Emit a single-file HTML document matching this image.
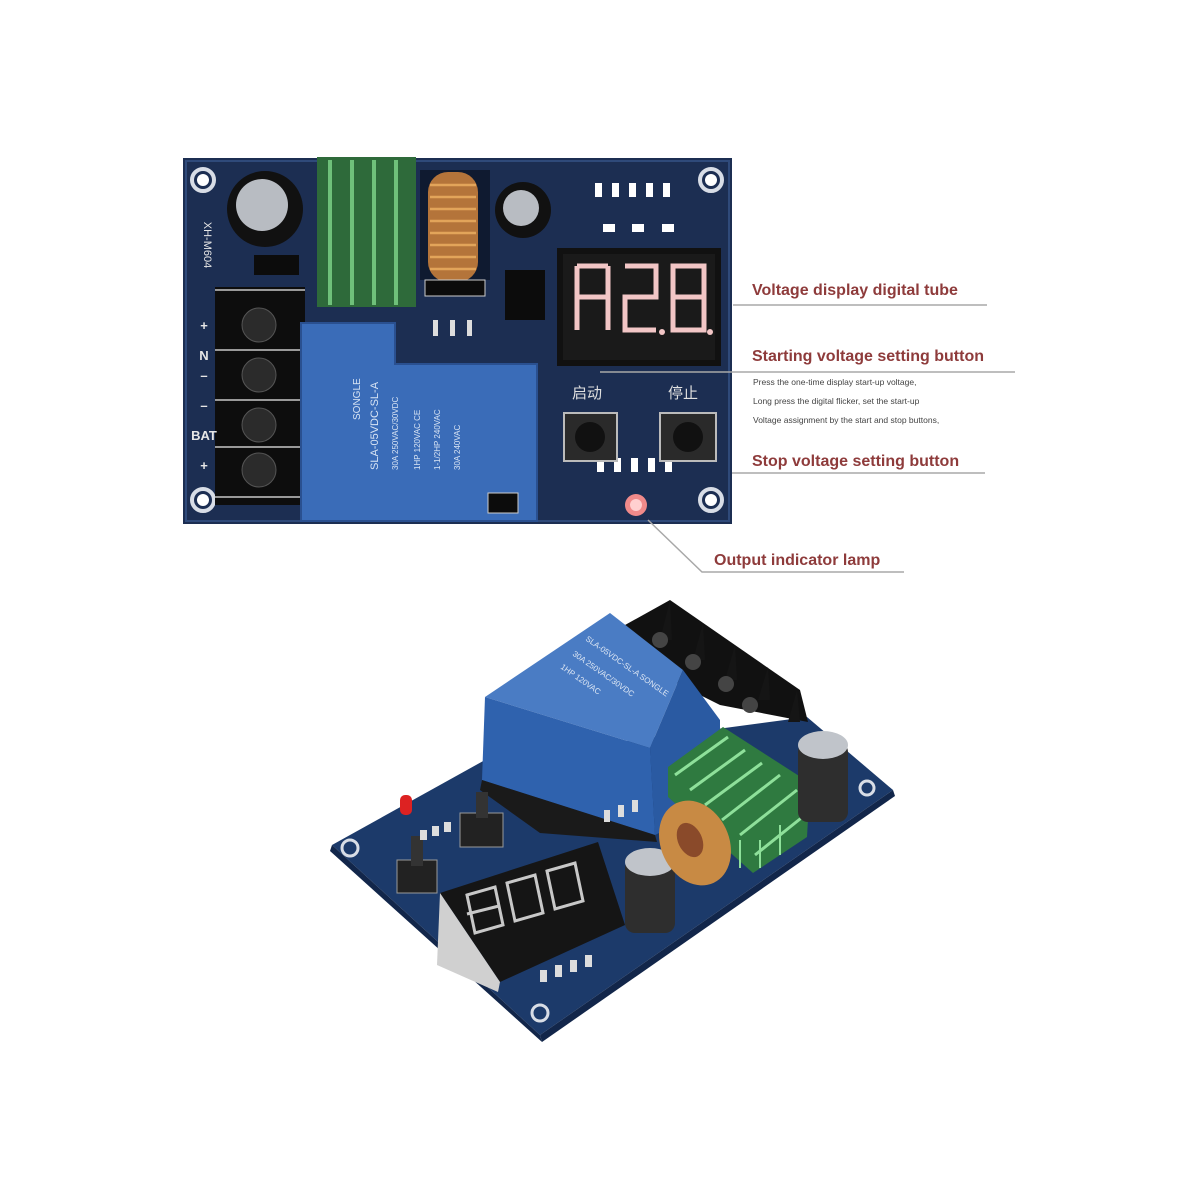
<!DOCTYPE html>
<html><head><meta charset="utf-8"><style>
html,body{margin:0;padding:0;background:#fff;width:1200px;height:1200px;overflow:hidden}
svg{display:block}
</style></head><body>
<svg width="1200" height="1200" viewBox="0 0 1200 1200" xmlns="http://www.w3.org/2000/svg" font-family="Liberation Sans, Noto Sans CJK SC, sans-serif">
<rect width="1200" height="1200" fill="#fff"/>
<!-- TOP BOARD -->
<rect x="183" y="158" width="549" height="366" fill="#1c2e52"/>
<rect x="186" y="161" width="543" height="360" fill="none" stroke="#2f4a7a" stroke-width="2"/>
<g fill="none" stroke="#d8dde6" stroke-width="4">
<circle cx="203" cy="180" r="11"/><circle cx="711" cy="180" r="11"/>
<circle cx="203" cy="500" r="11"/><circle cx="711" cy="500" r="11"/>
</g>
<g fill="#fff"><circle cx="203" cy="180" r="6"/><circle cx="711" cy="180" r="6"/><circle cx="203" cy="500" r="6"/><circle cx="711" cy="500" r="6"/></g>
<circle cx="265" cy="209" r="38" fill="#111"/>
<circle cx="262" cy="205" r="26" fill="#b8bcc2"/>
<circle cx="523" cy="210" r="28" fill="#111"/>
<circle cx="521" cy="208" r="18" fill="#b8bcc2"/>
<rect x="254" y="255" width="45" height="20" fill="#0c0c0c"/>
<rect x="317" y="157" width="99" height="150" fill="#2e6a3a"/>
<g stroke="#6fc07a" stroke-width="4">
<line x1="330" y1="160" x2="330" y2="305"/><line x1="352" y1="160" x2="352" y2="305"/><line x1="374" y1="160" x2="374" y2="305"/><line x1="396" y1="160" x2="396" y2="305"/>
</g>
<rect x="420" y="170" width="70" height="110" fill="#0f1a30"/>
<rect x="428" y="172" width="50" height="110" rx="20" fill="#b4743a"/>
<g stroke="#e2a45a" stroke-width="2.5"><line x1="430" y1="185" x2="476" y2="185"/><line x1="430" y1="197" x2="476" y2="197"/><line x1="430" y1="209" x2="476" y2="209"/><line x1="430" y1="221" x2="476" y2="221"/><line x1="430" y1="233" x2="476" y2="233"/><line x1="430" y1="245" x2="476" y2="245"/><line x1="430" y1="257" x2="476" y2="257"/><line x1="430" y1="269" x2="476" y2="269"/></g>
<rect x="425" y="280" width="60" height="16" fill="#0b0b0b" stroke="#ccc"/>
<rect x="215" y="287" width="90" height="218" fill="#0d0d0d"/>
<g fill="#2b2b2b" stroke="#555"><circle cx="259" cy="325" r="17"/><circle cx="259" cy="375" r="17"/><circle cx="259" cy="425" r="17"/><circle cx="259" cy="470" r="17"/></g>
<g stroke="#999" stroke-width="2"><line x1="215" y1="290" x2="305" y2="290"/><line x1="215" y1="350" x2="305" y2="350"/><line x1="215" y1="400" x2="305" y2="400"/><line x1="215" y1="447" x2="305" y2="447"/><line x1="215" y1="497" x2="305" y2="497"/></g>
<g fill="#e6e6e6" font-size="13" font-weight="bold">
<text x="204" y="330" text-anchor="middle">+</text><text x="204" y="360" text-anchor="middle">N</text><text x="204" y="380" text-anchor="middle">–</text><text x="204" y="410" text-anchor="middle">–</text><text x="204" y="440" text-anchor="middle">BAT</text><text x="204" y="470" text-anchor="middle">+</text>
</g>
<text x="204" y="245" fill="#e6e6e6" font-size="11" transform="rotate(90 204 245)" text-anchor="middle">XH-M604</text>
<path d="M301 323 H395 V364 H537 V521 H301 Z" fill="#3a6cb8" stroke="#2a5090" stroke-width="2"/>
<g fill="#d8e4f4" font-size="11">
<text transform="translate(378,470) rotate(-90)">SLA-05VDC-SL-A</text>
<text transform="translate(398,470) rotate(-90)" font-size="8">30A 250VAC/30VDC</text>
<text transform="translate(420,470) rotate(-90)" font-size="8">1HP 120VAC  CE</text>
<text transform="translate(440,470) rotate(-90)" font-size="8">1-1/2HP 240VAC</text>
<text transform="translate(460,470) rotate(-90)" font-size="8">30A 240VAC</text>
<text transform="translate(360,420) rotate(-90)" font-size="10">SONGLE</text>
</g>
<rect x="505" y="270" width="40" height="50" fill="#0c0c0c"/>
<g fill="#ddd"><rect x="433" y="320" width="5" height="16"/><rect x="450" y="320" width="5" height="16"/><rect x="467" y="320" width="5" height="16"/></g>
<g fill="#fff"><rect x="595" y="183" width="7" height="14"/><rect x="612" y="183" width="7" height="14"/><rect x="629" y="183" width="7" height="14"/><rect x="646" y="183" width="7" height="14"/><rect x="663" y="183" width="7" height="14"/>
<rect x="603" y="224" width="12" height="8"/><rect x="632" y="224" width="12" height="8"/><rect x="662" y="224" width="12" height="8"/>
<rect x="597" y="458" width="7" height="14"/><rect x="614" y="458" width="7" height="14"/><rect x="631" y="458" width="7" height="14"/><rect x="648" y="458" width="7" height="14"/><rect x="665" y="458" width="7" height="14"/></g>
<rect x="557" y="248" width="164" height="118" fill="#111"/>
<rect x="563" y="254" width="152" height="106" fill="#1a1a1a"/>
<g fill="none" stroke="#f2c6c6" stroke-width="5">
<path d="M577 266 H608 M577 266 V297 H608 M577 297 V330 M608 266 V330"/>
<path d="M625 266 H656 V297 H625 V330 H656"/>
<path d="M673 266 H704 V330 H673 Z M673 297 H704"/>
</g>
<g fill="#f2c6c6"><circle cx="662" cy="332" r="3"/><circle cx="710" cy="332" r="3"/></g>
<text x="572" y="398" fill="#e0e0e0" font-size="15" font-family="Noto Sans CJK SC, sans-serif">启动</text>
<text x="668" y="398" fill="#e0e0e0" font-size="15" font-family="Noto Sans CJK SC, sans-serif">停止</text>
<rect x="564" y="413" width="53" height="48" fill="#2a2a2a" stroke="#bbb" stroke-width="2"/>
<circle cx="590" cy="437" r="15" fill="#111"/>
<rect x="660" y="413" width="56" height="48" fill="#2a2a2a" stroke="#bbb" stroke-width="2"/>
<circle cx="688" cy="437" r="15" fill="#111"/>
<circle cx="636" cy="505" r="11" fill="#f08a8a"/>
<circle cx="636" cy="505" r="6" fill="#ffd0d0"/>
<rect x="488" y="493" width="30" height="20" fill="#0c0c0c" stroke="#ccc"/>
<g stroke="#a8a8a8" stroke-width="1.5" fill="none">
<line x1="733" y1="305" x2="987" y2="305"/>
<line x1="600" y1="372" x2="1015" y2="372"/>
<line x1="732" y1="473" x2="985" y2="473"/>
<polyline points="648,520 702,572 904,572"/>
</g>
<g fill="#8e3b3b" font-size="16" font-weight="bold">
<text x="752" y="295">Voltage display digital tube</text>
<text x="752" y="361">Starting voltage setting button</text>
<text x="752" y="466">Stop voltage setting button</text>
<text x="714" y="565">Output indicator lamp</text>
</g>
<g fill="#444" font-size="8.5">
<text x="753" y="385">Press the one-time display start-up voltage,</text>
<text x="753" y="404">Long press the digital flicker, set the start-up</text>
<text x="753" y="423">Voltage assignment by the start and stop buttons,</text>
</g>
<!-- BOTTOM BOARD -->
<polygon points="332,845 485,760 807,717 893,790 540,1035" fill="#1c3a6a"/>
<polygon points="332,845 540,1035 542,1042 330,851" fill="#12264a"/>
<polygon points="540,1035 893,790 895,796 542,1042" fill="#12264a"/>
<g fill="none" stroke="#d8dde6" stroke-width="3"><circle cx="350" cy="848" r="8"/><circle cx="540" cy="1013" r="8"/><circle cx="867" cy="788" r="7"/></g>
<!-- terminal -->
<polygon points="625,625 670,600 800,690 808,722 720,705 640,665" fill="#111"/>
<g fill="#151515"><polygon points="670,600 672,640 660,640"/><polygon points="703,623 705,660 693,660"/><polygon points="735,645 737,680 725,680"/><polygon points="768,667 770,700 758,700"/><polygon points="797,690 800,722 788,722"/></g>
<g fill="#444"><circle cx="660" cy="640" r="8"/><circle cx="693" cy="662" r="8"/><circle cx="726" cy="684" r="8"/><circle cx="750" cy="705" r="8"/></g>
<!-- relay -->
<polygon points="485,697 610,613 683,670 650,748" fill="#4a7cc4"/>
<polygon points="485,697 650,748 655,835 482,780" fill="#2f62ae"/>
<polygon points="650,748 683,670 720,720 720,803 655,835" fill="#2a5aa2"/>
<polygon points="482,780 655,835 657,842 540,833 480,790" fill="#1a1a1a"/>
<g fill="#dce6f4" font-size="8"><text transform="translate(585,640) rotate(35)">SLA-05VDC-SL-A SONGLE</text><text transform="translate(572,655) rotate(35)">30A 250VAC/30VDC</text><text transform="translate(560,668) rotate(35)">1HP 120VAC</text></g>
<!-- heatsink -->
<polygon points="668,767 723,727 810,783 807,837 753,873 668,797" fill="#2f7a40"/>
<g stroke="#8ee09a" stroke-width="3"><line x1="675" y1="775" x2="728" y2="737"/><line x1="690" y1="790" x2="745" y2="750"/><line x1="705" y1="805" x2="762" y2="763"/><line x1="722" y1="820" x2="780" y2="775"/><line x1="740" y1="835" x2="797" y2="790"/><line x1="755" y1="855" x2="805" y2="815"/></g>
<g stroke="#8ee09a" stroke-width="2"><line x1="720" y1="830" x2="720" y2="860"/><line x1="740" y1="840" x2="740" y2="868"/><line x1="760" y1="840" x2="760" y2="868"/><line x1="780" y1="825" x2="780" y2="855"/></g>
<!-- capacitors -->
<rect x="798" y="742" width="50" height="80" rx="10" fill="#2e2e2e"/>
<ellipse cx="823" cy="745" rx="25" ry="14" fill="#c0c4ca"/>
<rect x="625" y="858" width="50" height="75" rx="10" fill="#2e2e2e"/>
<ellipse cx="650" cy="862" rx="25" ry="14" fill="#c0c4ca"/>
<!-- inductor -->
<ellipse cx="695" cy="843" rx="34" ry="44" transform="rotate(-25 695 843)" fill="#c88a44"/>
<ellipse cx="690" cy="840" rx="12" ry="18" transform="rotate(-25 690 840)" fill="#8a4a2a"/>
<!-- display -->
<polygon points="440,893 598,842 625,925 500,982" fill="#151515"/>
<polygon points="440,893 500,982 498,992 437,965" fill="#d0d0d0"/>
<g fill="none" stroke="#c8c8c8" stroke-width="3">
<polygon points="467,895 495,887 503,925 475,933"/><polygon points="467,914 499,906"/>
<polygon points="507,883 535,875 543,913 515,921"/>
<polygon points="547,871 575,863 583,901 555,909"/>
</g>
<!-- buttons/led -->
<rect x="397" y="860" width="40" height="33" fill="#222" stroke="#999"/>
<rect x="411" y="836" width="12" height="30" fill="#333"/>
<rect x="460" y="813" width="43" height="34" fill="#222" stroke="#999"/>
<rect x="476" y="792" width="12" height="26" fill="#333"/>
<rect x="400" y="795" width="12" height="20" rx="5" fill="#d22"/>
<g fill="#ddd"><rect x="540" y="970" width="7" height="12"/><rect x="555" y="965" width="7" height="12"/><rect x="570" y="960" width="7" height="12"/><rect x="585" y="955" width="7" height="12"/><rect x="604" y="810" width="6" height="12"/><rect x="618" y="805" width="6" height="12"/><rect x="632" y="800" width="6" height="12"/>
<rect x="420" y="830" width="7" height="10"/><rect x="432" y="826" width="7" height="10"/><rect x="444" y="822" width="7" height="10"/></g>
</svg>
</body></html>
